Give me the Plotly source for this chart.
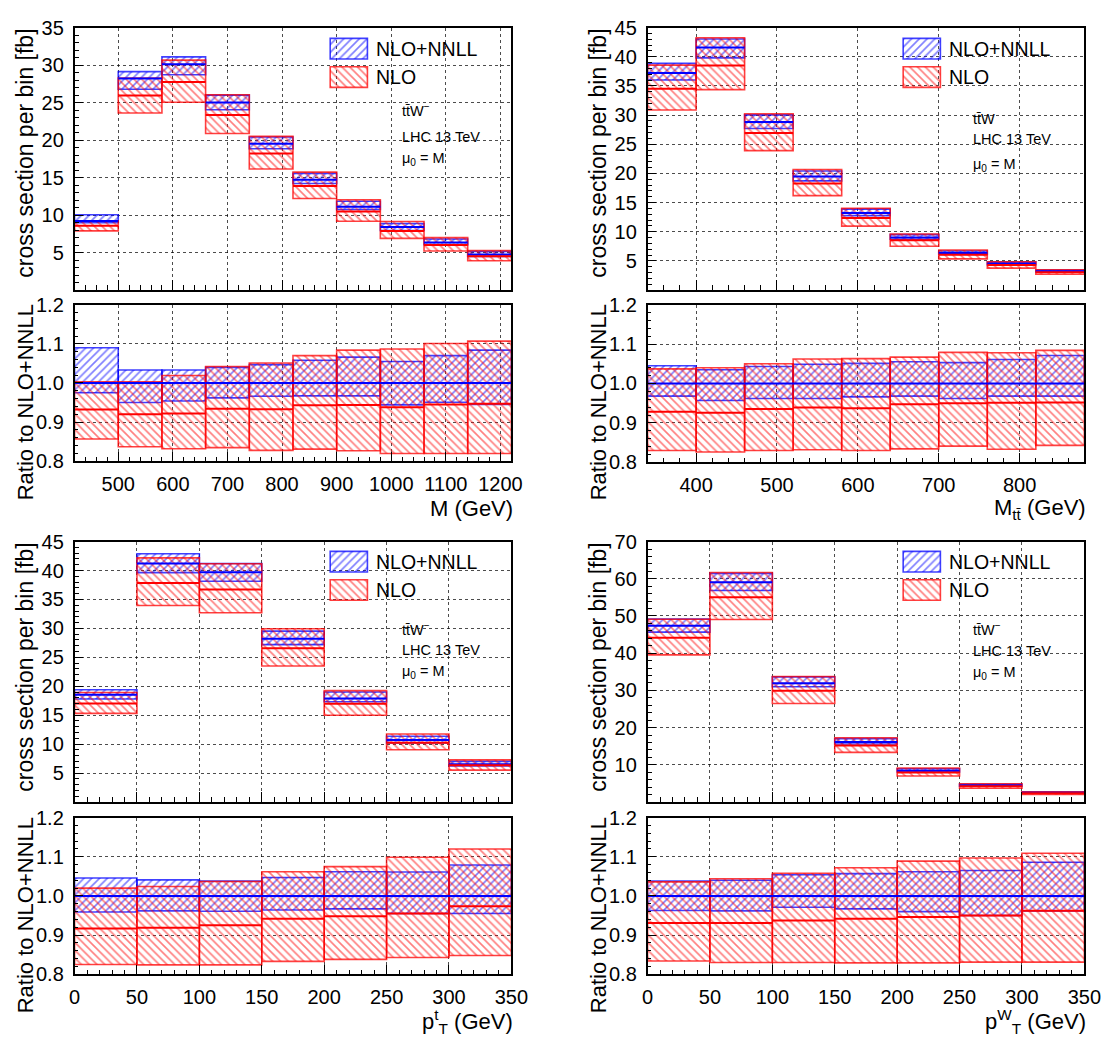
import plotly.graph_objects as go

W, H = 1119, 1044
FONT = "Liberation Sans, Arial, Helvetica, sans-serif"
BLUE = "rgb(0,0,255)"
RED = "rgb(255,0,0)"
BLUE_EDGE = "rgba(0,0,255,0.75)"
RED_EDGE = "rgba(255,0,0,0.75)"

# ---------------- data ----------------
# NLO+NNLL central value per bin [fb]; all other arrays are ratios to it.

# invariant mass M of the ttW system
m_edges = [420, 500, 580, 660, 740, 820, 900, 980, 1060, 1140, 1220]
m_nnll = [9.2, 28.2, 30.1, 25.0, 19.5, 14.7, 11.1, 8.4, 6.35, 4.75]
m_nnll_up = [1.090, 1.033, 1.033, 1.040, 1.047, 1.058, 1.066, 1.055, 1.070, 1.084]
m_nnll_dn = [0.975, 0.950, 0.954, 0.962, 0.966, 0.967, 0.967, 0.944, 0.951, 0.945]
m_nlo_c = [0.932, 0.920, 0.922, 0.934, 0.933, 0.943, 0.944, 0.938, 0.945, 0.947]
m_nlo_up = [1.003, 1.003, 1.019, 1.042, 1.051, 1.070, 1.084, 1.087, 1.101, 1.107]
m_nlo_dn = [0.857, 0.837, 0.832, 0.835, 0.828, 0.831, 0.827, 0.820, 0.820, 0.820]

# invariant mass of the top-quark pair
mtt_edges = [340, 400, 460, 520, 580, 640, 700, 760, 820, 880]
mtt_nnll = [37.2, 41.6, 28.8, 19.45, 13.2, 9.0, 6.35, 4.5, 3.2]
mtt_nnll_up = [1.045, 1.035, 1.043, 1.049, 1.051, 1.055, 1.053, 1.061, 1.071]
mtt_nnll_dn = [0.968, 0.957, 0.962, 0.962, 0.966, 0.968, 0.962, 0.968, 0.968]
mtt_nlo_c = [0.928, 0.926, 0.935, 0.939, 0.937, 0.947, 0.950, 0.951, 0.952]
mtt_nlo_up = [1.037, 1.040, 1.050, 1.062, 1.063, 1.067, 1.079, 1.078, 1.084]
mtt_nlo_dn = [0.830, 0.826, 0.830, 0.832, 0.830, 0.834, 0.841, 0.833, 0.843]

# transverse momentum of the top quark
ptt_edges = [0, 50, 100, 150, 200, 250, 300, 350]
ptt_nnll = [18.55, 41.2, 39.7, 28.2, 17.9, 10.7, 6.5]
ptt_nnll_up = [1.046, 1.041, 1.038, 1.047, 1.062, 1.061, 1.079]
ptt_nnll_dn = [0.959, 0.962, 0.961, 0.964, 0.967, 0.955, 0.955]
ptt_nlo_c = [0.917, 0.919, 0.925, 0.942, 0.948, 0.955, 0.974]
ptt_nlo_up = [1.020, 1.024, 1.037, 1.062, 1.075, 1.099, 1.120]
ptt_nlo_dn = [0.825, 0.824, 0.824, 0.833, 0.838, 0.843, 0.848]

# transverse momentum of the W boson
ptw_edges = [0, 50, 100, 150, 200, 250, 300, 350]
ptw_nnll = [47.4, 59.1, 31.9, 16.1, 8.4, 4.45, 2.45]
ptw_nnll_up = [1.038, 1.040, 1.054, 1.057, 1.062, 1.065, 1.086]
ptw_nnll_dn = [0.963, 0.962, 0.971, 0.967, 0.960, 0.950, 0.962]
ptw_nlo_c = [0.931, 0.931, 0.937, 0.942, 0.946, 0.950, 0.962]
ptw_nlo_up = [1.036, 1.044, 1.058, 1.072, 1.089, 1.097, 1.109]
ptw_nlo_dn = [0.834, 0.830, 0.830, 0.829, 0.829, 0.831, 0.831]

# tick labels
m_xticks = [500, 600, 700, 800, 900, 1000, 1100, 1200]
mtt_xticks = [400, 500, 600, 700, 800]
pt_xticks = [0, 50, 100, 150, 200, 250, 300, 350]
xs35_yticks = [5, 10, 15, 20, 25, 30, 35]
xs45_yticks = [5, 10, 15, 20, 25, 30, 35, 40, 45]
xs70_yticks = [10, 20, 30, 40, 50, 60, 70]
ratio_yticks = [0.8, 0.9, 1.0, 1.1, 1.2]

series_names = ["NLO+NNLL", "NLO"]

# ---------------- layout of the four panels (pixel geometry) ----------------
panels = [
    dict(edges=m_edges, nnll=m_nnll, up=m_nnll_up, dn=m_nnll_dn,
         nc=m_nlo_c, nup=m_nlo_up, ndn=m_nlo_dn,
         xticks=m_xticks, xminor=20, yticks=xs35_yticks, ymax=35, yminor=1,
         xtitle="M (GeV)", proc="tt\u0304W<sup>\u2212</sup>",
         x0=70, x1=516, top=17, mid=285, rtop=300, rbot=460,
         txt_x=402, txt_y=(101, 129, 151), key_x=331, key_y=28),
    dict(edges=mtt_edges, nnll=mtt_nnll, up=mtt_nnll_up, dn=mtt_nnll_dn,
         nc=mtt_nlo_c, nup=mtt_nlo_up, ndn=mtt_nlo_dn,
         xticks=mtt_xticks, xminor=20, yticks=xs45_yticks, ymax=45, yminor=1,
         xtitle="M<sub>tt\u0304</sub> (GeV)", proc="tt\u0304W",
         x0=655, x1=1101, top=17, mid=285, rtop=300, rbot=461,
         txt_x=985, txt_y=(110, 131, 157), key_x=916, key_y=28),
    dict(edges=ptt_edges, nnll=ptt_nnll, up=ptt_nnll_up, dn=ptt_nnll_dn,
         nc=ptt_nlo_c, nup=ptt_nlo_up, ndn=ptt_nlo_dn,
         xticks=pt_xticks, xminor=10, yticks=xs45_yticks, ymax=45, yminor=1,
         xtitle="p<sup>t</sup><sub>T</sub> (GeV)", proc="tt\u0304W<sup>\u2212</sup>",
         x0=70, x1=516, top=542, mid=808, rtop=824, rbot=984,
         txt_x=402, txt_y=(631, 653, 675), key_x=331, key_y=552),
    dict(edges=ptw_edges, nnll=ptw_nnll, up=ptw_nnll_up, dn=ptw_nnll_dn,
         nc=ptw_nlo_c, nup=ptw_nlo_up, ndn=ptw_nlo_dn,
         xticks=pt_xticks, xminor=10, yticks=xs70_yticks, ymax=70, yminor=2,
         xtitle="p<sup>W</sup><sub>T</sub> (GeV)", proc="tt\u0304W<sup>\u2212</sup>",
         x0=655, x1=1101, top=542, mid=808, rtop=824, rbot=984,
         txt_x=985, txt_y=(631, 654, 676), key_x=916, key_y=552),
]


def fx(p):
    return p / W


def fy(p):
    return 1 - p / H


def hatch(color, edge, shape):
    return dict(color="rgba(0,0,0,0)",
                line=dict(color=edge, width=1.6),
                pattern=dict(shape=shape, fgcolor=color, bgcolor="rgba(0,0,0,0)",
                             size=5.5, solidity=0.3, fillmode="overlay"))


def band(xa, ya, edges, lo, hi, color, edge, shape):
    centers = [(a + b) / 2 for a, b in zip(edges[:-1], edges[1:])]
    widths = [b - a for a, b in zip(edges[:-1], edges[1:])]
    return go.Bar(x=centers, y=[h - l for l, h in zip(lo, hi)], base=lo, width=widths,
                  xaxis=xa, yaxis=ya, marker=hatch(color, edge, shape),
                  showlegend=False, hoverinfo="skip")


def level(xa, ya, edges, vals, color):
    xs, ys = [], []
    for a, b, v in zip(edges[:-1], edges[1:], vals):
        xs += [a, b, None]
        ys += [v, v, None]
    return go.Scatter(x=xs, y=ys, mode="lines", line=dict(color=color, width=2),
                      xaxis=xa, yaxis=ya, showlegend=False, hoverinfo="skip")


def axis_common():
    return dict(showline=True, mirror=True, linecolor="black", linewidth=1.5,
                ticks="inside", tickcolor="black", zeroline=False,
                showgrid=True, gridcolor="rgba(0,0,0,0.7)", gridwidth=1, griddash="dot",
                tickfont=dict(family=FONT, size=20, color="black"))


fig = go.Figure()
layout = dict(width=W, height=H, margin=dict(l=0, r=0, t=0, b=0),
              paper_bgcolor="white", plot_bgcolor="rgba(0,0,0,0)",
              barmode="overlay", showlegend=False, font=dict(family=FONT, color="black"))
annotations = []

key_x, key_w, key_top, key_h = [], [], [], []

for i, p in enumerate(panels):
    n_main = 2 * i + 1
    n_rat = 2 * i + 2
    xm, ym = f"x{n_main}", f"y{n_main}"
    xr, yr = f"x{n_rat}", f"y{n_rat}"
    e = p["edges"]
    c = p["nnll"]

    # ratio quantities
    r_one = [1.0] * len(c)
    # main-panel quantities
    nn_lo = [v * r for v, r in zip(c, p["dn"])]
    nn_hi = [v * r for v, r in zip(c, p["up"])]
    nl_c = [v * r for v, r in zip(c, p["nc"])]
    nl_lo = [v * r for v, r in zip(c, p["ndn"])]
    nl_hi = [v * r for v, r in zip(c, p["nup"])]

    fig.add_trace(band(xm, ym, e, nn_lo, nn_hi, BLUE, BLUE_EDGE, "/"))
    fig.add_trace(band(xm, ym, e, nl_lo, nl_hi, RED, RED_EDGE, "\\"))
    fig.add_trace(level(xm, ym, e, c, BLUE))
    fig.add_trace(level(xm, ym, e, nl_c, RED))

    fig.add_trace(band(xr, yr, e, p["dn"], p["up"], BLUE, BLUE_EDGE, "/"))
    fig.add_trace(band(xr, yr, e, p["ndn"], p["nup"], RED, RED_EDGE, "\\"))
    fig.add_trace(level(xr, yr, e, r_one, BLUE))
    fig.add_trace(level(xr, yr, e, p["nc"], RED))

    xr_range = [e[0], e[-1]]
    dtick = p["xticks"][1] - p["xticks"][0]

    ax = axis_common()
    ax.update(domain=[fx(p["x0"]), fx(p["x1"])], anchor=ym, range=xr_range,
              tickmode="linear", tick0=0, dtick=dtick, ticklen=10, showticklabels=False,
              minor=dict(tickmode="linear", tick0=0, dtick=p["xminor"], ticks="inside",
                         ticklen=5, tickcolor="black", showgrid=False))
    layout["xaxis" if n_main == 1 else f"xaxis{n_main}"] = ax

    ay = axis_common()
    ay.update(domain=[fy(p["mid"]), fy(p["top"])], anchor=xm, range=[0, p["ymax"]],
              tickmode="array", tickvals=p["yticks"], ticklen=9, ticklabelstandoff=5,
              minor=dict(tickmode="linear", tick0=0, dtick=p["yminor"], ticks="inside",
                         ticklen=5, tickcolor="black", showgrid=False))
    layout[f"yaxis{n_main}" if n_main > 1 else "yaxis"] = ay

    axr = axis_common()
    axr.update(domain=[fx(p["x0"]), fx(p["x1"])], anchor=yr, range=xr_range,
               tickmode="array", tickvals=p["xticks"], ticklen=10, ticklabelstandoff=4,
               minor=dict(tickmode="linear", tick0=0, dtick=p["xminor"], ticks="inside",
                          ticklen=5, tickcolor="black", showgrid=False))
    layout[f"xaxis{n_rat}"] = axr

    ayr = axis_common()
    ayr.update(domain=[fy(p["rbot"]), fy(p["rtop"])], anchor=xr, range=[0.8, 1.2],
               tickmode="array", tickvals=ratio_yticks, tickformat=".1f", ticklen=9,
               ticklabelstandoff=5,
               minor=dict(tickmode="linear", tick0=0.8, dtick=0.02, ticks="inside",
                          ticklen=4, tickcolor="black", showgrid=False))
    layout[f"yaxis{n_rat}"] = ayr

    # axis titles
    ytitle_x = p["x0"] - 50
    annotations.append(dict(text="cross section per bin [fb]", textangle=-90,
                            x=fx(ytitle_x), y=fy(p["top"] - 1), xref="paper", yref="paper",
                            xanchor="center", yanchor="top", showarrow=False,
                            font=dict(size=23, family=FONT)))
    annotations.append(dict(text="Ratio to NLO+NNLL", textangle=-90,
                            x=fx(ytitle_x), y=fy(p["rtop"] - 2), xref="paper", yref="paper",
                            xanchor="center", yanchor="top", showarrow=False,
                            font=dict(size=22, family=FONT)))
    annotations.append(dict(text=p["xtitle"], x=fx(p["x1"] + 4), y=fy(p["rbot"] + 48),
                            xref="paper", yref="paper", xanchor="right", yanchor="middle",
                            showarrow=False, font=dict(size=22, family=FONT)))

    # process / collider labels
    for txt, ty in zip([p["proc"], "LHC 13 TeV", "\u03bc<sub>0</sub> = M"], p["txt_y"]):
        annotations.append(dict(text=txt, x=fx(p["txt_x"]), y=fy(ty), xref="paper",
                                yref="paper", xanchor="left", yanchor="middle",
                                showarrow=False, font=dict(size=14.5, family=FONT)))

    # legend entries
    for k, name in enumerate(series_names):
        top = p["key_y"] + k * 29
        key_x.append(p["key_x"] + 19)
        key_w.append(38)
        key_top.append(top)
        key_h.append(21)
        annotations.append(dict(text=name, x=fx(p["key_x"] + 45), y=fy(top + 10.5),
                                xref="paper", yref="paper", xanchor="left",
                                yanchor="middle", showarrow=False,
                                font=dict(size=19.5, family=FONT)))

# legend keys drawn on a full-figure pixel overlay
blue_idx = list(range(0, len(key_x), 2))
red_idx = list(range(1, len(key_x), 2))
for idx, col, edge, shp in [(blue_idx, BLUE, BLUE_EDGE, "/"), (red_idx, RED, RED_EDGE, "\\")]:
    fig.add_trace(go.Bar(x=[key_x[j] for j in idx], y=[key_h[j] for j in idx],
                         base=[key_top[j] for j in idx], width=[key_w[j] for j in idx],
                         xaxis="x9", yaxis="y9", marker=hatch(col, edge, shp),
                         showlegend=False, hoverinfo="skip"))
layout["xaxis9"] = dict(domain=[0, 1], range=[0, W], visible=False, anchor="y9")
layout["yaxis9"] = dict(domain=[0, 1], range=[H, 0], visible=False, anchor="x9")

layout["annotations"] = annotations
fig.update_layout(**layout)
fig.write_html("out.html")
